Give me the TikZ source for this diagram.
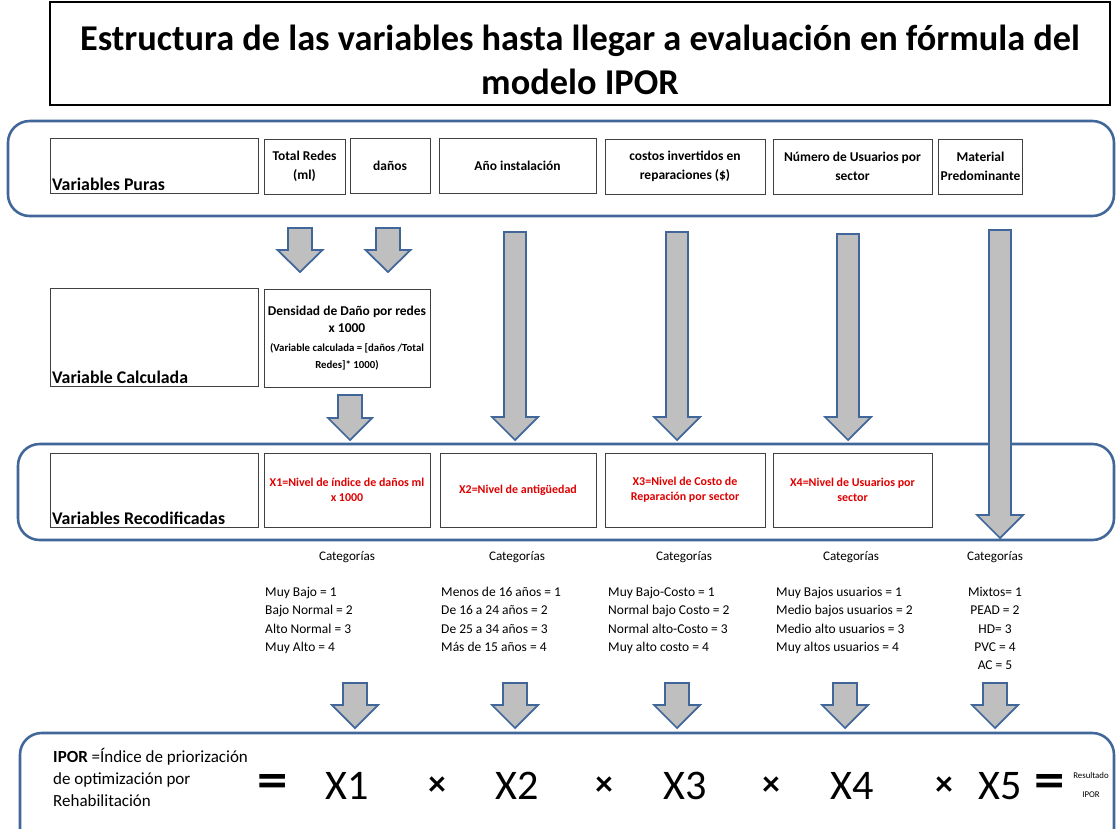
\documentclass[tikz,border=0pt]{standalone}
\usepackage{fontspec}
\setmainfont{Carlito}
\definecolor{bblue}{HTML}{41679A}
\definecolor{agray}{HTML}{BFBFBF}
\definecolor{xred}{HTML}{E00000}
\newcommand\blockarr[6]{\draw[barrow] ({#1-#5/2},#2) -- ({#1+#5/2},#2) -- ({#1+#5/2},#3) -- ({#1+#6/2},#3) -- (#1,#4) -- ({#1-#6/2},#3) -- ({#1-#5/2},#3) -- cycle;}
\newcommand\subfnt{\bfseries\fontsize{9.2}{13.6}\selectfont}
\begin{document}
\begin{tikzpicture}[x=0.03cm,y=-0.03cm,
  box/.style={draw=black!75,line width=0.7pt,fill=white,inner sep=2pt},
  wh/.style 2 args={minimum width=#1*0.03cm,minimum height=#2*0.03cm},
  cont/.style={draw=bblue,line width=2.2pt,rounded corners=0.65cm},
  barrow/.style={draw=bblue,line width=1.5pt,fill=agray,line join=miter},
  btxt/.style={font=\bfseries\fontsize{11.5}{16}\selectfont,align=center},
  lbl/.style={font=\bfseries\fontsize{15.2}{16}\selectfont,anchor=south west,inner sep=2pt},
  rtxt/.style={font=\bfseries\fontsize{10.2}{13}\selectfont,align=center,text=xred},
  cat/.style={font=\fontsize{11.2}{12}\selectfont},
  lst/.style={font=\fontsize{11.5}{15.6}\selectfont,align=left,anchor=north west,inner sep=0pt},
  bigx/.style={font=\fontsize{36}{40}\selectfont},
  times/.style={font=\bfseries\fontsize{30}{30}\selectfont}
]
\useasboundingbox (0,0) rectangle (1116,828);
\clip (0,0) rectangle (1116,828);
% title
\node[draw=black,line width=1.2pt,wh={1060}{103}] (title) at (580,53.5) {};
\node[align=center,font=\bfseries\fontsize{31}{38}\selectfont] (titletxt) at (580,60)
  {Estructura de las variables hasta llegar a evaluación en fórmula del\\modelo IPOR};
% containers
\draw[cont] (8,121) rectangle (1114,216);
\draw[cont] (18,444) rectangle (1114,540);
\draw[cont] (20,733) rectangle (1114,860);
% top row
\node[box,wh={208}{55}] (vp) at (154,165.5) {};
\node[lbl] at (vp.south west) {Variables Puras};
\node[box,wh={81}{55},btxt] (tr) at (304.5,166.5) {Total Redes\\(ml)};
\node[box,wh={80}{55},btxt] (dn) at (390,165.5) {daños};
\node[box,wh={157}{55},btxt] (ai) at (517.5,165.5) {Año instalación};
\node[box,wh={160}{55},btxt] (ci) at (685,166.5) {costos invertidos en\\reparaciones (\$)};
\node[box,wh={159}{55},btxt] (nu) at (852.5,166.5) {Número de Usuarios por\\sector};
\node[box,wh={81}{55},btxt] (mp) at (980.5,166.5) {Material\\Predominante};
% calculated row
\node[box,wh={208}{98}] (vc) at (154,337) {};
\node[lbl] at (vc.south west) {Variable Calculada};
\node[box,wh={166}{98},align=center,font=\bfseries\fontsize{11.5}{14.5}\selectfont] (dd) at (347,338)
  {Densidad de Daño por redes\\x 1000\\[2pt]
   \subfnt (Variable calculada = [daños /Total\\\subfnt Redes]* 1000)};
% recoded row
\node[box,wh={208}{74}] (vr) at (154,490) {};
\node[lbl] at (vr.south west) {Variables Recodificadas};
\node[box,wh={166}{74},rtxt] (x1) at (347,490) {X1=Nivel de índice de daños ml\\x 1000};
\node[box,wh={156}{74},rtxt] (x2) at (518,490) {X2=Nivel de antigüedad};
\node[box,wh={160}{74},rtxt] (x3) at (685,490) {X3=Nivel de Costo de\\Reparación por sector};
\node[box,wh={159}{74},rtxt] (x4) at (852.5,490) {X4=Nivel de Usuarios por\\sector};
% arrows
\blockarr{300}{228}{250}{272}{24}{45}
\blockarr{388}{228}{250}{272}{24}{45}
\blockarr{350}{395}{418}{440}{24}{44}
\blockarr{515}{232}{417}{440}{22}{46}
\blockarr{677}{232}{417}{440}{22}{46}
\blockarr{848}{234}{417}{440}{22}{46}
\blockarr{1000}{230}{515}{538}{22}{46}
% categories
\node[cat] (c1) at (347,557) {Categorías};
\node[cat] (c2) at (517,557) {Categorías};
\node[cat] (c3) at (684,557) {Categorías};
\node[cat] (c4) at (851,557) {Categorías};
\node[cat] (c5) at (995,557) {Categorías};
\node[lst] (l1) at (265,587) {Muy Bajo = 1\\Bajo Normal = 2\\Alto Normal = 3\\Muy Alto = 4};
\node[lst] (l2) at (441,587) {Menos de 16 años = 1\\De 16 a 24 años = 2\\De 25 a 34 años = 3\\Más de 15 años = 4};
\node[lst] (l3) at (608,587) {Muy Bajo-Costo = 1\\Normal bajo Costo = 2\\Normal alto-Costo = 3\\Muy alto costo = 4};
\node[lst] (l4) at (776,587) {Muy Bajos usuarios = 1\\Medio bajos usuarios = 2\\Medio alto usuarios = 3\\Muy altos usuarios = 4};
\node[lst,align=center,anchor=north] (l5) at (995,587) {Mixtos= 1\\PEAD = 2\\HD= 3\\PVC = 4\\AC = 5};
% bottom arrows
\blockarr{355}{683}{705}{728}{24}{46}
\blockarr{515}{683}{705}{728}{24}{46}
\blockarr{677}{683}{705}{728}{24}{46}
\blockarr{845}{683}{705}{728}{24}{46}
\blockarr{995}{683}{705}{728}{24}{46}
% formula
\node[font=\fontsize{14.5}{18.7}\selectfont,align=left,anchor=north west,inner sep=0pt] (ipor) at (53,748)
  {\textbf{IPOR} =Índice de priorización\\de optimización por\\Rehabilitación};
\node[font=\bfseries\fontsize{40}{40}\selectfont] (eq1) at (273,786) {\scalebox{1.3}[1.1]{=}};
\node[bigx] (bx1) at (347,786) {X1};
\node[times] (t1) at (437,786) {×};
\node[bigx] (bx2) at (517,786) {X2};
\node[times] (t2) at (604,786) {×};
\node[bigx] (bx3) at (685,786) {X3};
\node[times] (t3) at (771,786) {×};
\node[bigx] (bx4) at (852,786) {X4};
\node[times] (t4) at (944,786) {×};
\node[bigx] (bx5) at (1000,786) {X5};
\node[font=\bfseries\fontsize{40}{40}\selectfont] (eq2) at (1050,786) {\scalebox{1.3}[1.1]{=}};
\node[font=\fontsize{7.5}{16}\selectfont,align=center] (res) at (1091,785) {Resultado\\IPOR};
\end{tikzpicture}
\end{document}
